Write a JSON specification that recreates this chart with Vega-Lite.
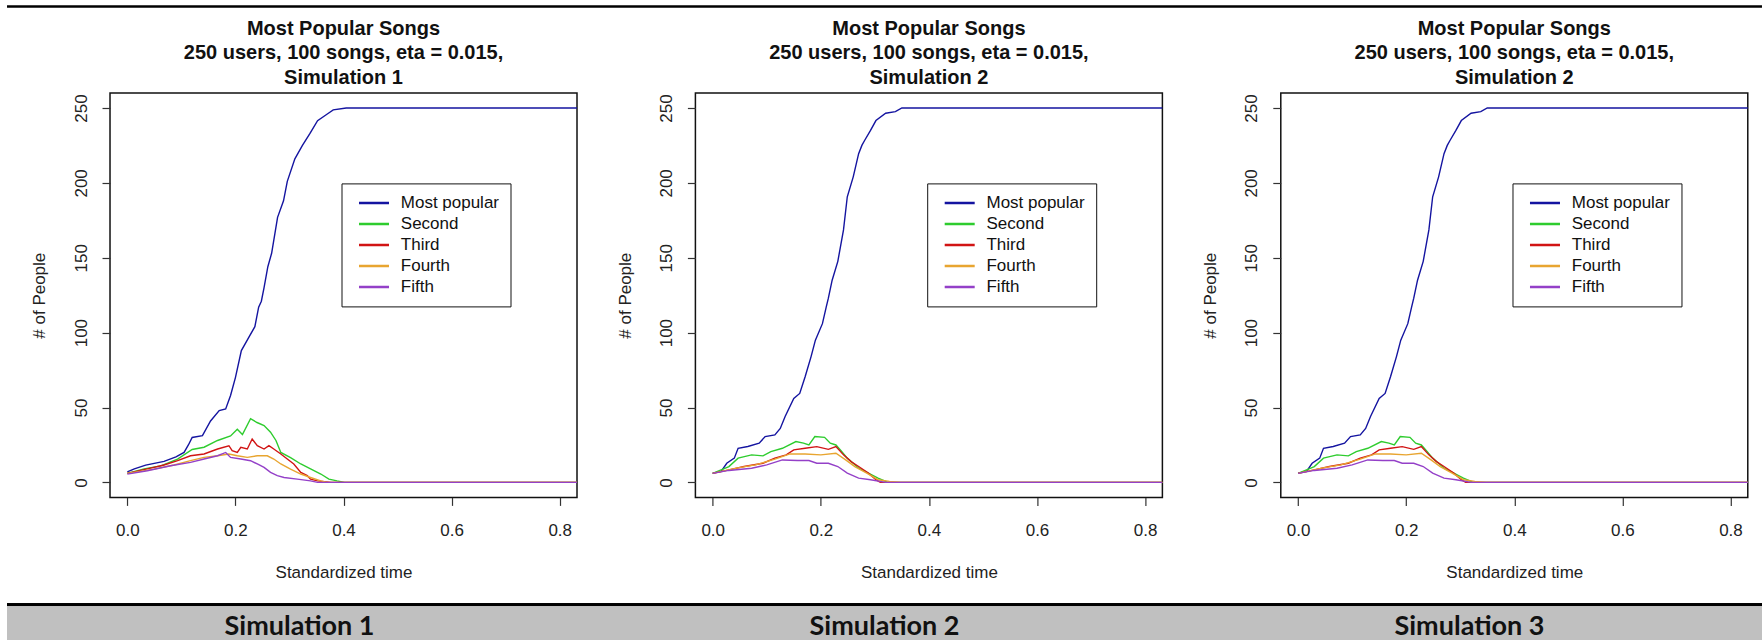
{
  "$schema": "https://vega.github.io/schema/vega-lite/v6.json",
  "autosize": {"type": "pad"},
  "padding": {"left": 7, "top": 5.2, "right": 0, "bottom": 0},
  "background": "white",
  "config": {
    "view": {"stroke": null},
    "font": "Liberation Sans",
    "axis": {
      "domain": false, "grid": false, "ticks": true, "tickSize": 8, "tickColor": "#333", "tickWidth": 1.2,
      "labelFont": "Liberation Sans", "labelFontSize": 17, "labelColor": "#222", "labelFlush": false, "labelOverlap": false,
      "titleFont": "Liberation Sans", "titleFontSize": 17, "titleFontWeight": "normal", "titleColor": "#222"
    },
    "legend": {"labelFont": "Liberation Sans", "labelFontSize": 17, "labelColor": "#111"},
    "title": {"font": "Liberation Sans", "fontSize": 20, "fontWeight": "bold", "color": "#111", "lineHeight": 24.7, "anchor": "middle", "frame": "group", "baseline": "bottom", "offset": 5}
  },
  "datasets": {
    "sim1": [
      {"s":"Most popular","t":0,"n":7},{"s":"Most popular","t":0.013,"n":9},{"s":"Most popular","t":0.034,"n":11.5},{"s":"Most popular","t":0.068,"n":14},{"s":"Most popular","t":0.09,"n":17},{"s":"Most popular","t":0.105,"n":20},{"s":"Most popular","t":0.113,"n":25},{"s":"Most popular","t":0.12,"n":30},{"s":"Most popular","t":0.139,"n":31.2},{"s":"Most popular","t":0.154,"n":41},{"s":"Most popular","t":0.17,"n":48},{"s":"Most popular","t":0.182,"n":49},{"s":"Most popular","t":0.191,"n":58},{"s":"Most popular","t":0.2,"n":70},{"s":"Most popular","t":0.211,"n":88},{"s":"Most popular","t":0.225,"n":97},{"s":"Most popular","t":0.236,"n":104},{"s":"Most popular","t":0.243,"n":117},{"s":"Most popular","t":0.248,"n":121},{"s":"Most popular","t":0.253,"n":130},{"s":"Most popular","t":0.26,"n":144},{"s":"Most popular","t":0.267,"n":153},{"s":"Most popular","t":0.278,"n":177},{"s":"Most popular","t":0.289,"n":188},{"s":"Most popular","t":0.296,"n":201},{"s":"Most popular","t":0.31,"n":216},{"s":"Most popular","t":0.324,"n":225},{"s":"Most popular","t":0.338,"n":233},{"s":"Most popular","t":0.352,"n":241.5},{"s":"Most popular","t":0.37,"n":246},{"s":"Most popular","t":0.381,"n":248.7},{"s":"Most popular","t":0.405,"n":250},{"s":"Most popular","t":0.832,"n":250},
      {"s":"Second","t":0,"n":6},{"s":"Second","t":0.031,"n":9},{"s":"Second","t":0.062,"n":11},{"s":"Second","t":0.093,"n":15.5},{"s":"Second","t":0.12,"n":22},{"s":"Second","t":0.142,"n":23.5},{"s":"Second","t":0.167,"n":28},{"s":"Second","t":0.191,"n":31},{"s":"Second","t":0.2035,"n":35.5},{"s":"Second","t":0.213,"n":32},{"s":"Second","t":0.228,"n":42.5},{"s":"Second","t":0.24,"n":40},{"s":"Second","t":0.253,"n":38},{"s":"Second","t":0.265,"n":33.5},{"s":"Second","t":0.275,"n":28},{"s":"Second","t":0.284,"n":20},{"s":"Second","t":0.302,"n":16.5},{"s":"Second","t":0.321,"n":12.3},{"s":"Second","t":0.339,"n":9},{"s":"Second","t":0.358,"n":5.6},{"s":"Second","t":0.373,"n":2.2},{"s":"Second","t":0.388,"n":1},{"s":"Second","t":0.402,"n":0},{"s":"Second","t":0.832,"n":0},
      {"s":"Third","t":0,"n":6},{"s":"Third","t":0.037,"n":9},{"s":"Third","t":0.068,"n":11.6},{"s":"Third","t":0.093,"n":14.5},{"s":"Third","t":0.117,"n":17.8},{"s":"Third","t":0.142,"n":19},{"s":"Third","t":0.167,"n":22.3},{"s":"Third","t":0.188,"n":24.5},{"s":"Third","t":0.194,"n":21.2},{"s":"Third","t":0.2035,"n":20},{"s":"Third","t":0.21,"n":23.4},{"s":"Third","t":0.222,"n":22.3},{"s":"Third","t":0.231,"n":29},{"s":"Third","t":0.2405,"n":24.5},{"s":"Third","t":0.253,"n":22.3},{"s":"Third","t":0.262,"n":24.5},{"s":"Third","t":0.271,"n":22.3},{"s":"Third","t":0.284,"n":19},{"s":"Third","t":0.296,"n":15.6},{"s":"Third","t":0.308,"n":12.3},{"s":"Third","t":0.321,"n":6.7},{"s":"Third","t":0.333,"n":4.5},{"s":"Third","t":0.339,"n":2.2},{"s":"Third","t":0.352,"n":1},{"s":"Third","t":0.377,"n":0},{"s":"Third","t":0.832,"n":0},
      {"s":"Fourth","t":0,"n":6},{"s":"Fourth","t":0.0495,"n":8.9},{"s":"Fourth","t":0.0865,"n":11.6},{"s":"Fourth","t":0.117,"n":14.5},{"s":"Fourth","t":0.142,"n":16.7},{"s":"Fourth","t":0.167,"n":17.8},{"s":"Fourth","t":0.188,"n":19},{"s":"Fourth","t":0.2035,"n":17.8},{"s":"Fourth","t":0.222,"n":16.7},{"s":"Fourth","t":0.2405,"n":17.8},{"s":"Fourth","t":0.259,"n":17.8},{"s":"Fourth","t":0.271,"n":15.6},{"s":"Fourth","t":0.284,"n":12.3},{"s":"Fourth","t":0.302,"n":8.9},{"s":"Fourth","t":0.321,"n":5.6},{"s":"Fourth","t":0.339,"n":3.3},{"s":"Fourth","t":0.358,"n":1},{"s":"Fourth","t":0.37,"n":0},{"s":"Fourth","t":0.832,"n":0},
      {"s":"Fifth","t":0,"n":5.5},{"s":"Fifth","t":0.037,"n":7.8},{"s":"Fifth","t":0.08,"n":11.1},{"s":"Fifth","t":0.117,"n":13.4},{"s":"Fifth","t":0.142,"n":15.6},{"s":"Fifth","t":0.167,"n":17.8},{"s":"Fifth","t":0.182,"n":20},{"s":"Fifth","t":0.191,"n":16.7},{"s":"Fifth","t":0.21,"n":15.6},{"s":"Fifth","t":0.228,"n":14.5},{"s":"Fifth","t":0.2405,"n":12.3},{"s":"Fifth","t":0.253,"n":10},{"s":"Fifth","t":0.265,"n":6.7},{"s":"Fifth","t":0.2775,"n":4.5},{"s":"Fifth","t":0.29,"n":3.3},{"s":"Fifth","t":0.3145,"n":2.2},{"s":"Fifth","t":0.339,"n":1},{"s":"Fifth","t":0.352,"n":0},{"s":"Fifth","t":0.832,"n":0}
    ],
    "sim2": [
      {"s":"Most popular","t":0,"n":6.2},{"s":"Most popular","t":0.0156,"n":7.3},{"s":"Most popular","t":0.026,"n":12.8},{"s":"Most popular","t":0.04,"n":16.2},{"s":"Most popular","t":0.047,"n":22.8},{"s":"Most popular","t":0.065,"n":24},{"s":"Most popular","t":0.086,"n":26.2},{"s":"Most popular","t":0.097,"n":30.6},{"s":"Most popular","t":0.115,"n":31.7},{"s":"Most popular","t":0.125,"n":36},{"s":"Most popular","t":0.134,"n":44},{"s":"Most popular","t":0.15,"n":56},{"s":"Most popular","t":0.161,"n":59.4},{"s":"Most popular","t":0.171,"n":70.5},{"s":"Most popular","t":0.182,"n":84},{"s":"Most popular","t":0.19,"n":95},{"s":"Most popular","t":0.203,"n":106},{"s":"Most popular","t":0.21,"n":117},{"s":"Most popular","t":0.214,"n":123},{"s":"Most popular","t":0.221,"n":135},{"s":"Most popular","t":0.2315,"n":147.6},{"s":"Most popular","t":0.242,"n":168.6},{"s":"Most popular","t":0.249,"n":190.7},{"s":"Most popular","t":0.26,"n":204},{"s":"Most popular","t":0.27,"n":219.5},{"s":"Most popular","t":0.276,"n":225},{"s":"Most popular","t":0.281,"n":228.3},{"s":"Most popular","t":0.292,"n":235},{"s":"Most popular","t":0.302,"n":241.6},{"s":"Most popular","t":0.32,"n":246.5},{"s":"Most popular","t":0.338,"n":247.6},{"s":"Most popular","t":0.35,"n":250},{"s":"Most popular","t":0.832,"n":250},
      {"s":"Second","t":0,"n":6},{"s":"Second","t":0.03,"n":10.6},{"s":"Second","t":0.047,"n":16.2},{"s":"Second","t":0.072,"n":18.4},{"s":"Second","t":0.093,"n":17.7},{"s":"Second","t":0.1076,"n":20.6},{"s":"Second","t":0.129,"n":22.8},{"s":"Second","t":0.154,"n":27.3},{"s":"Second","t":0.168,"n":26.2},{"s":"Second","t":0.178,"n":25},{"s":"Second","t":0.189,"n":30.6},{"s":"Second","t":0.207,"n":30.1},{"s":"Second","t":0.2175,"n":26.2},{"s":"Second","t":0.228,"n":25},{"s":"Second","t":0.2386,"n":20.6},{"s":"Second","t":0.249,"n":16.2},{"s":"Second","t":0.26,"n":12.8},{"s":"Second","t":0.27,"n":9.5},{"s":"Second","t":0.288,"n":6.2},{"s":"Second","t":0.306,"n":2.9},{"s":"Second","t":0.32,"n":0.7},{"s":"Second","t":0.3235,"n":0},{"s":"Second","t":0.832,"n":0},
      {"s":"Third","t":0,"n":6},{"s":"Third","t":0.03,"n":8.4},{"s":"Third","t":0.058,"n":10.6},{"s":"Third","t":0.093,"n":12.8},{"s":"Third","t":0.115,"n":16.2},{"s":"Third","t":0.136,"n":18.4},{"s":"Third","t":0.15,"n":21.7},{"s":"Third","t":0.171,"n":22.8},{"s":"Third","t":0.1926,"n":23.9},{"s":"Third","t":0.214,"n":22.1},{"s":"Third","t":0.228,"n":23.9},{"s":"Third","t":0.242,"n":18.4},{"s":"Third","t":0.256,"n":13.9},{"s":"Third","t":0.27,"n":10.6},{"s":"Third","t":0.288,"n":6.2},{"s":"Third","t":0.302,"n":1.8},{"s":"Third","t":0.31,"n":0},{"s":"Third","t":0.832,"n":0},
      {"s":"Fourth","t":0,"n":6},{"s":"Fourth","t":0.044,"n":9.5},{"s":"Fourth","t":0.079,"n":11.7},{"s":"Fourth","t":0.115,"n":15.5},{"s":"Fourth","t":0.143,"n":19},{"s":"Fourth","t":0.171,"n":19},{"s":"Fourth","t":0.2,"n":18.4},{"s":"Fourth","t":0.228,"n":19.5},{"s":"Fourth","t":0.246,"n":15},{"s":"Fourth","t":0.263,"n":10.6},{"s":"Fourth","t":0.285,"n":6.2},{"s":"Fourth","t":0.306,"n":1.8},{"s":"Fourth","t":0.327,"n":0.7},{"s":"Fourth","t":0.348,"n":0},{"s":"Fourth","t":0.832,"n":0},
      {"s":"Fifth","t":0,"n":6},{"s":"Fifth","t":0.03,"n":8},{"s":"Fifth","t":0.072,"n":9.5},{"s":"Fifth","t":0.1,"n":11.7},{"s":"Fifth","t":0.129,"n":15},{"s":"Fifth","t":0.157,"n":14.6},{"s":"Fifth","t":0.178,"n":14.6},{"s":"Fifth","t":0.1926,"n":12.8},{"s":"Fifth","t":0.214,"n":12.8},{"s":"Fifth","t":0.2315,"n":10.6},{"s":"Fifth","t":0.249,"n":6.2},{"s":"Fifth","t":0.27,"n":2.9},{"s":"Fifth","t":0.292,"n":1.8},{"s":"Fifth","t":0.32,"n":0},{"s":"Fifth","t":0.832,"n":0}
    ],
    "cols": [{"label": "Simulation 1"}, {"label": "Simulation 2"}, {"label": "Simulation 3"}]
  },
  "vconcat": [
    {
      "width": 1755, "height": 2.5,
      "data": {"values": [{"k": 1}]},
      "mark": {"type": "rect", "color": "#000"},
      "encoding": {}
    },
    {
      "vconcat": [
        {
          "hconcat": [
            {"width": 21.1, "height": 1, "data": {"values": []}, "mark": "point", "encoding": {}},
            {
              "hconcat": [
                {
                  "width": 467, "height": 404.4,
                  "data": {"name": "sim1"},
                  "view": {"stroke": "#111", "strokeWidth": 1.5},
                  "title": {"text": ["Most Popular Songs", "250 users, 100 songs, eta = 0.015,", "Simulation 1"]},
                  "mark": {"type": "line", "strokeWidth": 1.4},
                  "encoding": {
                    "x": {"field": "t", "type": "quantitative", "scale": {"domain": [-0.032, 0.832], "nice": false, "zero": false}, "axis": {"values": [0, 0.2, 0.4, 0.6, 0.8], "format": ".1f", "title": "Standardized time", "labelPadding": 17, "titlePadding": 26}},
                    "y": {"field": "n", "type": "quantitative", "scale": {"domain": [-10, 260], "nice": false, "zero": false}, "axis": {"values": [0, 50, 100, 150, 200, 250], "title": "# of People", "labelAngle": -90, "labelAlign": "center", "labelBaseline": "bottom", "labelPadding": 12, "titlePadding": 23.3}},
                    "color": {"field": "s", "type": "nominal", "scale": {"domain": ["Most popular", "Second", "Third", "Fourth", "Fifth"], "range": ["#1414a0", "#2ecc2e", "#d11414", "#e8a530", "#9440c8"]},
                      "legend": {"orient": "none", "legendX": 231.5, "legendY": 90.4, "title": null, "symbolType": "stroke", "symbolSize": 900, "symbolStrokeWidth": 2.5, "clipHeight": 17, "rowPadding": 3, "padding": 11, "labelOffset": 10.3, "symbolOffset": 5, "strokeColor": "#111", "fillColor": "#fff"}}
                  }
                },
                {
                  "width": 467, "height": 404.4,
                  "data": {"name": "sim2"},
                  "view": {"stroke": "#111", "strokeWidth": 1.5},
                  "title": {"text": ["Most Popular Songs", "250 users, 100 songs, eta = 0.015,", "Simulation 2"]},
                  "mark": {"type": "line", "strokeWidth": 1.4},
                  "encoding": {
                    "x": {"field": "t", "type": "quantitative", "scale": {"domain": [-0.032, 0.832], "nice": false, "zero": false}, "axis": {"values": [0, 0.2, 0.4, 0.6, 0.8], "format": ".1f", "title": "Standardized time", "labelPadding": 17, "titlePadding": 26}},
                    "y": {"field": "n", "type": "quantitative", "scale": {"domain": [-10, 260], "nice": false, "zero": false}, "axis": {"values": [0, 50, 100, 150, 200, 250], "title": "# of People", "labelAngle": -90, "labelAlign": "center", "labelBaseline": "bottom", "labelPadding": 12, "titlePadding": 23.3}},
                    "color": {"field": "s", "type": "nominal", "scale": {"domain": ["Most popular", "Second", "Third", "Fourth", "Fifth"], "range": ["#1414a0", "#2ecc2e", "#d11414", "#e8a530", "#9440c8"]},
                      "legend": {"orient": "none", "legendX": 231.8, "legendY": 90.4, "title": null, "symbolType": "stroke", "symbolSize": 900, "symbolStrokeWidth": 2.5, "clipHeight": 17, "rowPadding": 3, "padding": 11, "labelOffset": 10.3, "symbolOffset": 5, "strokeColor": "#111", "fillColor": "#fff"}}
                  }
                },
                {
                  "width": 467, "height": 404.4,
                  "data": {"name": "sim2"},
                  "view": {"stroke": "#111", "strokeWidth": 1.5},
                  "title": {"text": ["Most Popular Songs", "250 users, 100 songs, eta = 0.015,", "Simulation 2"]},
                  "mark": {"type": "line", "strokeWidth": 1.4},
                  "encoding": {
                    "x": {"field": "t", "type": "quantitative", "scale": {"domain": [-0.032, 0.832], "nice": false, "zero": false}, "axis": {"values": [0, 0.2, 0.4, 0.6, 0.8], "format": ".1f", "title": "Standardized time", "labelPadding": 17, "titlePadding": 26}},
                    "y": {"field": "n", "type": "quantitative", "scale": {"domain": [-10, 260], "nice": false, "zero": false}, "axis": {"values": [0, 50, 100, 150, 200, 250], "title": "# of People", "labelAngle": -90, "labelAlign": "center", "labelBaseline": "bottom", "labelPadding": 12, "titlePadding": 23.3}},
                    "color": {"field": "s", "type": "nominal", "scale": {"domain": ["Most popular", "Second", "Third", "Fourth", "Fifth"], "range": ["#1414a0", "#2ecc2e", "#d11414", "#e8a530", "#9440c8"]},
                      "legend": {"orient": "none", "legendX": 231.7, "legendY": 90.4, "title": null, "symbolType": "stroke", "symbolSize": 900, "symbolStrokeWidth": 2.5, "clipHeight": 17, "rowPadding": 3, "padding": 11, "labelOffset": 10.3, "symbolOffset": 5, "strokeColor": "#111", "fillColor": "#fff"}}
                  }
                }
              ],
              "spacing": 118.4,
              "bounds": "flush",
              "resolve": {"scale": {"color": "independent"}, "legend": {"color": "independent"}}
            }
          ],
          "spacing": 0,
          "bounds": "full",
          "resolve": {"scale": {"color": "independent"}, "legend": {"color": "independent"}}
        },
        {
          "width": 1755, "height": 37.3,
          "data": {"name": "cols"},
          "layer": [
            {"mark": {"type": "rect", "color": "#000"}, "encoding": {}},
            {"mark": {"type": "rect", "color": "#c0c0c0", "yOffset": 3}, "encoding": {}},
            {"mark": {"type": "text", "font": "Lato", "fontSize": 27, "fontWeight": "bold", "color": "#111", "dy": 4.7},
             "encoding": {"x": {"field": "label", "type": "nominal", "axis": null}, "text": {"field": "label"}}}
          ]
        }
      ],
      "spacing": 21.2,
      "bounds": "full",
      "resolve": {"scale": {"color": "independent"}, "legend": {"color": "independent"}}
    }
  ],
  "spacing": 8.8,
  "bounds": "full",
  "resolve": {"scale": {"color": "independent"}, "legend": {"color": "independent"}}
}
